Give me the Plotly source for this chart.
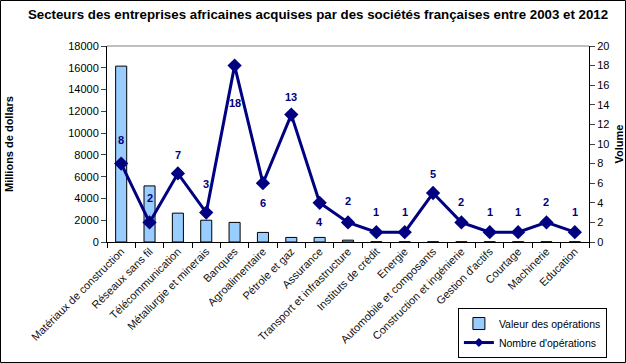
import plotly.graph_objects as go

categories = ["Matériaux de construction", "Réseaux sans fil", "Télécommunication",
              "Métallurgie et minerais", "Banques", "Agroalimentaire", "Pétrole et gaz",
              "Assurance", "Transport et infrastructure", "Instituts de crédit", "Energie",
              "Automobile et composants", "Construction et ingénierie", "Gestion d'actifs",
              "Courtage", "Machinerie", "Education"]
valeur = [16150, 5150, 2650, 2000, 1800, 880, 420, 420, 170, 20, 20, 20, 20, 20, 20, 20, 20]
nombre = [8, 2, 7, 3, 18, 6, 13, 4, 2, 1, 1, 5, 2, 1, 1, 2, 1]
# vertical offset (px) of each data label relative to its point
label_shift = [24, 24, 18, 29, -37, -20, 18, -19, 21, 20, 20, 19, 20, 20, 20, 20, 20]

xs = list(range(len(categories)))
boundaries = [i - 0.5 for i in range(len(categories) + 1)]
FONT = "Liberation Sans, Arial, sans-serif"
NAVY = "#000080"
BAR_MARKER = dict(color="#99CCFF", line=dict(color="#000000", width=1))

fig = go.Figure()
fig.add_trace(go.Bar(x=xs, y=valeur, name="Valeur des opérations", width=0.39,
                     marker=BAR_MARKER, showlegend=False,
                     xaxis="x", yaxis="y"))
fig.add_trace(go.Scatter(x=xs, y=nombre, name="Nombre d'opérations", mode="lines+markers",
                         line=dict(color=NAVY, width=3),
                         marker=dict(symbol="diamond", size=11, color=NAVY),
                         showlegend=False, xaxis="x", yaxis="y2"))
# legend entries (smaller symbols, like the original legend)
fig.add_trace(go.Bar(x=[None], y=[None], name="Valeur des opérations",
                     marker=BAR_MARKER, xaxis="x", yaxis="y"))
fig.add_trace(go.Scatter(x=[None], y=[None], name="Nombre d'opérations", mode="lines+markers",
                         line=dict(color=NAVY, width=3),
                         marker=dict(symbol="diamond", size=7, color=NAVY),
                         xaxis="x", yaxis="y2"))

for x, v, s in zip(xs, nombre, label_shift):
    fig.add_annotation(x=x, y=v, xref="x", yref="y2", text=f"<b>{v}</b>", showarrow=False,
                       yshift=s, font=dict(family=FONT, size=11, color=NAVY))

xrange = [-0.5, len(categories) - 0.5]
fig.update_layout(
    width=626, height=363,
    margin=dict(l=107, r=37, t=46, b=121, autoexpand=False),
    paper_bgcolor="white", plot_bgcolor="white",
    font=dict(family=FONT, size=11, color="black"),
    title=dict(text="<b>Secteurs des entreprises africaines acquises par des sociétés françaises entre 2003 et 2012</b>",
               x=0.508, xanchor="center", y=0.96, yanchor="middle",
               font=dict(family=FONT, size=13.3, color="black")),
    showlegend=True,
    legend=dict(x=0.728, y=-0.592, xanchor="left", yanchor="bottom",
                bgcolor="white", bordercolor="black", borderwidth=1,
                font=dict(family=FONT, size=10.5), tracegroupgap=0,
                itemwidth=30),
    # axis carrying tick marks between categories
    xaxis=dict(range=xrange, tickmode="array", tickvals=boundaries,
               ticktext=["" for _ in boundaries], ticks="outside", ticklen=5,
               tickcolor="black", showgrid=False, automargin=False,
               showline=True, linecolor="black", linewidth=1, zeroline=False),
    # overlay axis carrying the category labels
    xaxis2=dict(range=xrange, overlaying="x", side="bottom", anchor="y",
                tickmode="array", tickvals=xs, ticktext=categories, tickangle=-45,
                ticks="", showgrid=False, showline=False, zeroline=False,
                automargin=False,
                tickfont=dict(family=FONT, size=11, color="#111")),
    yaxis=dict(range=[0, 18000], dtick=2000, tickformat="d", showgrid=False, showline=True,
               linecolor="black", ticks="outside", ticklen=5, zeroline=False,
               automargin=False,
               title=dict(text="<b>Millions de dollars</b>", standoff=52,
                          font=dict(family=FONT, size=11))),
    yaxis2=dict(range=[0, 20], dtick=2, overlaying="y", side="right", showgrid=False,
                showline=True, linecolor="black", ticks="outside", ticklen=5,
                zeroline=False, automargin=False,
                title=dict(text="<b>Volume</b>", standoff=6,
                           font=dict(family=FONT, size=11))),
    bargap=0.6,
)

# dummy trace to activate the label axis
fig.add_trace(go.Scatter(x=xs, y=nombre, xaxis="x2", yaxis="y2", mode="markers",
                         marker=dict(opacity=0), showlegend=False, hoverinfo="skip"))

# plot area top border
fig.add_shape(type="line", xref="paper", yref="paper", x0=0, x1=1, y0=1, y1=1,
              line=dict(color="#808080", width=1))
# outer chart border
fig.add_shape(type="rect", xref="paper", yref="paper",
              x0=(0.5 - 107) / 482, x1=(625.5 - 107) / 482,
              y0=(242 - 362.5) / 196, y1=(242 - 0.5) / 196,
              line=dict(color="black", width=1), fillcolor="rgba(0,0,0,0)")

fig.write_html("out.html", config={"displayModeBar": False},
               post_script="document.body.style.margin='0';document.body.style.overflow='hidden';")
